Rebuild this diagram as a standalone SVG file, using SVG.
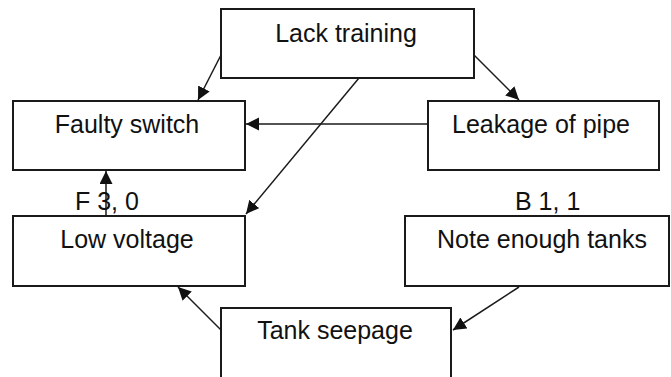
<svg xmlns="http://www.w3.org/2000/svg" width="671" height="377" viewBox="0 0 671 377">
<style>
.box{fill:#fff;stroke:#1a1a1a;stroke-width:2}
.lbl{font-family:"Liberation Sans",Arial,sans-serif;font-size:25px;fill:#111}
.c{text-anchor:middle}
.edge{stroke:#1a1a1a;stroke-width:1.5;fill:none;marker-end:url(#ah)}
</style>
<defs>
<marker id="ah" markerUnits="userSpaceOnUse" markerWidth="14" markerHeight="14" refX="13" refY="6.5" orient="auto">
<path d="M0,0 L13,6.5 L0,13 z" fill="#111"/>
</marker>
</defs>
<rect width="671" height="377" fill="#fff"/>
<g id="connectors">
<line class="edge" x1="221" y1="55" x2="198" y2="100"/>
<line class="edge" x1="474" y1="55" x2="519" y2="100"/>
<line class="edge" x1="428" y1="124" x2="246" y2="124"/>
<line class="edge" x1="359" y1="78" x2="246" y2="214"/>
<line class="edge" x1="106" y1="216" x2="106" y2="171"/>
<line class="edge" x1="221" y1="330" x2="178" y2="287"/>
<line class="edge" x1="519" y1="287" x2="453" y2="330"/>
</g>
<g id="lack-training">
<rect class="box" x="221" y="9" width="253" height="69"/>
<text class="lbl c" x="346" y="42">Lack training</text>
</g>
<g id="faulty-switch">
<rect class="box" x="13" y="101" width="232" height="69"/>
<text class="lbl c" x="127" y="133">Faulty switch</text>
</g>
<g id="leakage-of-pipe">
<rect class="box" x="428" y="101" width="231" height="69"/>
<text class="lbl c" x="541" y="133">Leakage of pipe</text>
</g>
<g id="low-voltage">
<rect class="box" x="13" y="216" width="232" height="70"/>
<text class="lbl c" x="127" y="248">Low voltage</text>
</g>
<g id="note-enough-tanks">
<rect class="box" x="405" y="216" width="264" height="70"/>
<text class="lbl c" x="542" y="248">Note enough tanks</text>
</g>
<g id="tank-seepage">
<rect class="box" x="221" y="308" width="230" height="80"/>
<text class="lbl c" x="335" y="339">Tank seepage</text>
</g>
<g id="labels">
<text class="lbl" x="75" y="210">F 3, 0</text>
<text class="lbl" x="515" y="210">B 1, 1</text>
</g>
</svg>
